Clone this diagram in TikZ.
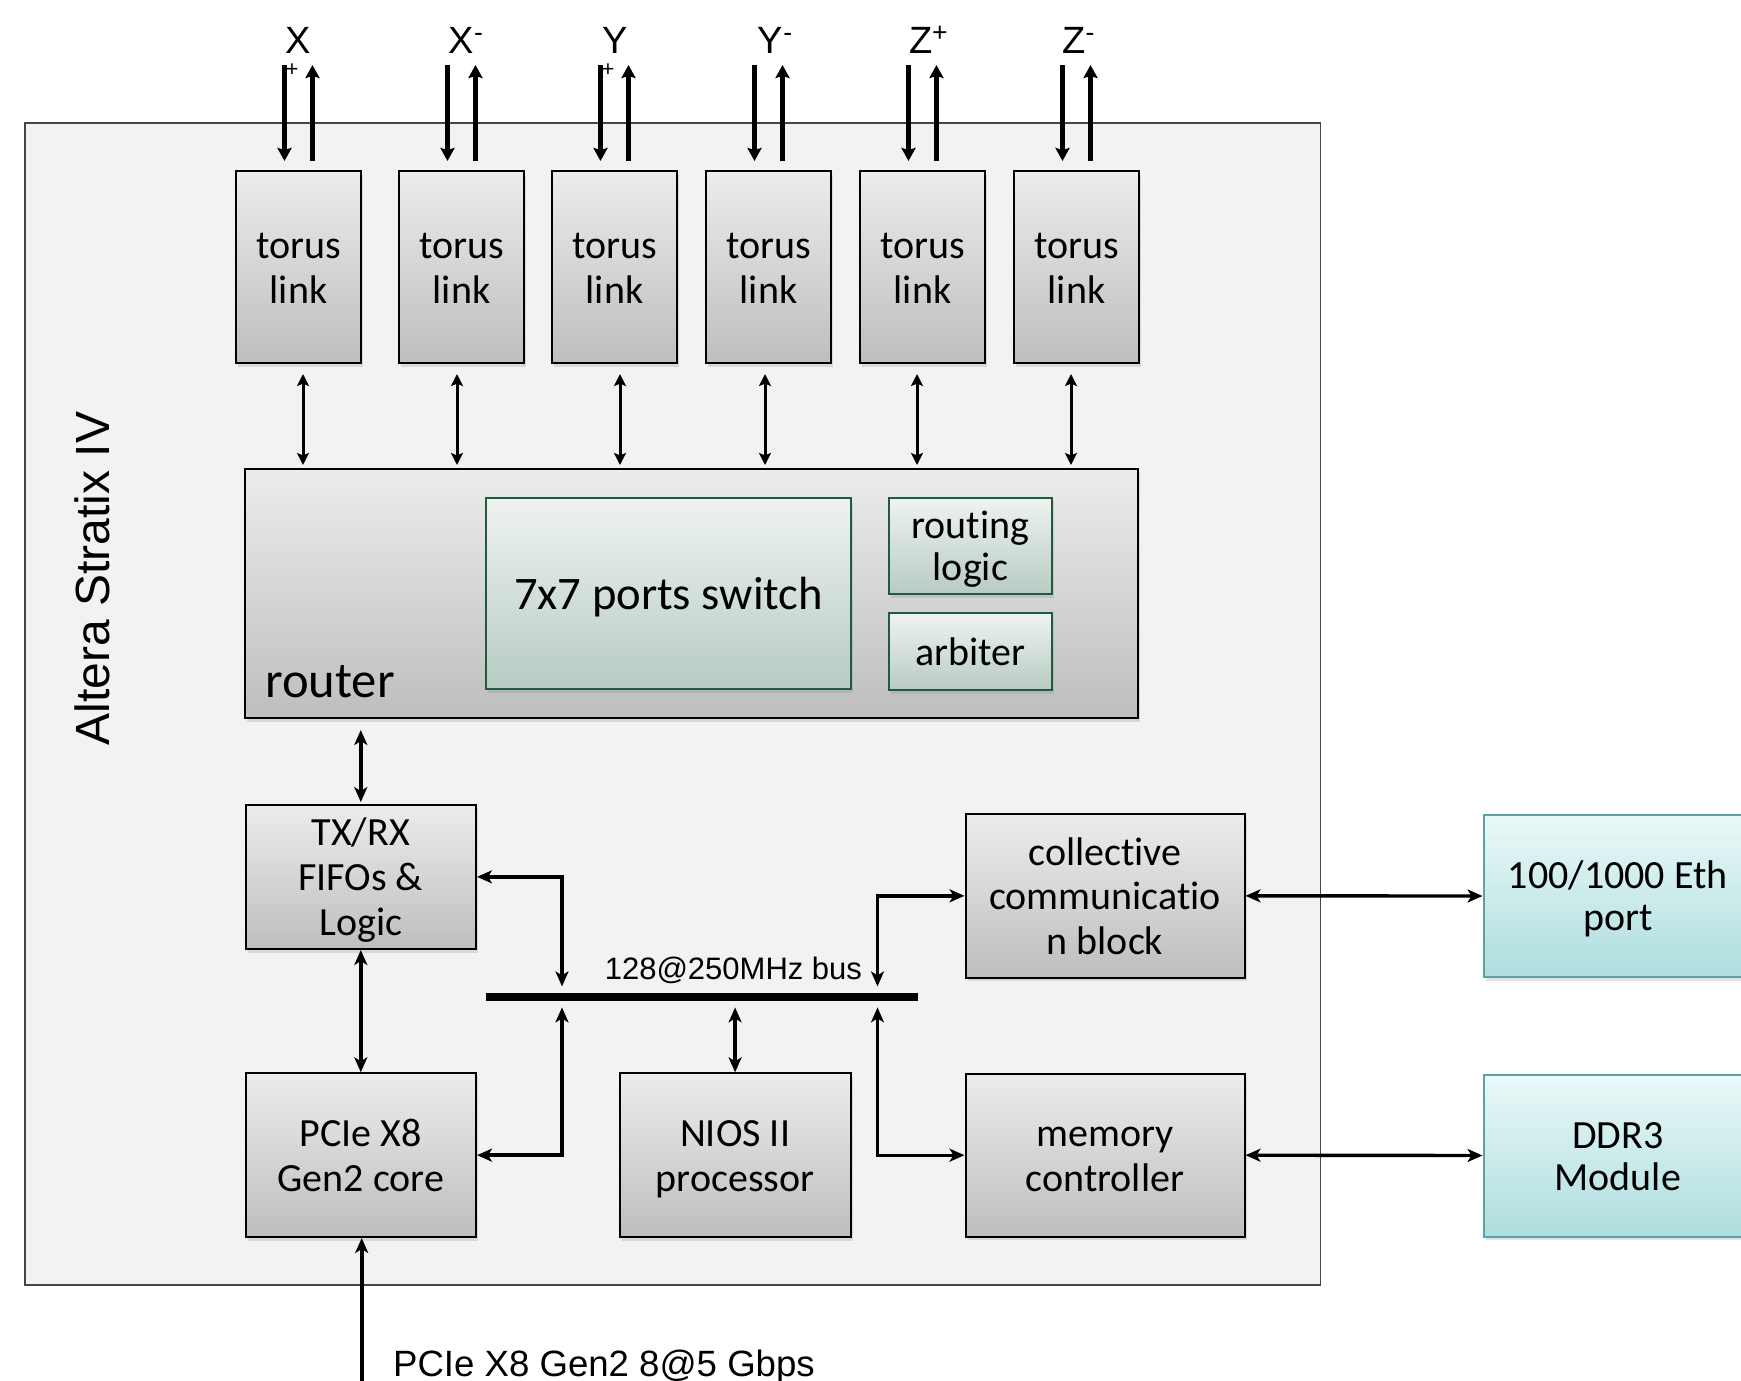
\documentclass[tikz,border=0pt]{standalone}
\usepackage{fontspec}
\setmainfont{Carlito}[Ligatures={NoCommon}]
\newfontfamily\arialf{Liberation Sans}
\usetikzlibrary{arrows.meta,shadows,calc}
\newcommand\lnst{\vrule width 0pt height 0.85em depth 0.15em\relax}
\definecolor{framefill}{RGB}{242,242,242}
\definecolor{framedraw}{RGB}{70,70,70}
\definecolor{gtop}{RGB}{236,236,236}
\definecolor{gbot}{RGB}{190,190,190}
\definecolor{sgtop}{RGB}{238,243,241}
\definecolor{sgbot}{RGB}{184,203,195}
\definecolor{sgdraw}{RGB}{30,92,60}
\definecolor{ctop}{RGB}{234,248,248}
\definecolor{cbot}{RGB}{174,222,222}
\definecolor{cdraw}{RGB}{95,160,160}
\tikzset{
  shd/.style={drop shadow={opacity=0.22,shadow xshift=1.2pt,shadow yshift=-1.8pt}},
  blk/.style={shd,draw=black,line width=1pt,top color=gtop,bottom color=gbot,
    align=center,inner sep=0pt,font=\fontsize{20pt}{22.3pt}\selectfont},
  gbox/.style={shd,draw=sgdraw,line width=1pt,top color=sgtop,bottom color=sgbot,
    align=center,inner sep=0pt,font=\fontsize{20pt}{20.7pt}\selectfont},
  cbox/.style={shd,draw=cdraw,line width=1pt,top color=ctop,bottom color=cbot,
    align=center,inner sep=0pt,font=\fontsize{20pt}{21pt}\selectfont},
  torus/.style={blk,minimum width=62.5pt,minimum height=96pt},
  lbl/.style={font=\arialf\fontsize{19pt}{21pt}\selectfont,inner sep=0pt},
  smallplus/.style={font=\arialf\fontsize{11pt}{12pt}\selectfont,inner sep=0pt},
  toparr/.style={line width=2.3pt,-{Stealth[length=6.5pt,width=7pt,inset=1pt]}},
  midarr/.style={line width=1.5pt,{Stealth[length=6pt,width=6pt,inset=1.2pt]}-{Stealth[length=6pt,width=6pt,inset=1.2pt]}},
  elb/.style={line width=1.7pt,{Stealth[length=7.5pt,width=6.5pt,inset=2pt]}-{Stealth[length=7.5pt,width=6.5pt,inset=2pt]}},
  inarr/.style={line width=2pt,-{Stealth[length=7.5pt,width=6.5pt,inset=2pt]}}
}
\begin{document}
\begin{tikzpicture}[x=0.5pt,y=-0.5pt]
\useasboundingbox (0,0) rectangle (1741,1381);
% chip frame
\node[draw=framedraw,fill=framefill,line width=0.7pt,minimum width=647.75pt,minimum height=581pt,inner sep=0pt] (chip) at (672.75,704) {};
\node[rotate=90,anchor=base,font=\arialf\fontsize{24pt}{26pt}\selectfont,inner sep=0pt] (chiplbl) at (109,578.4) {Altera Stratix IV};
% torus links
\foreach \i/\x in {1/298.5,2/461.5,3/614.5,4/768.5,5/922.5,6/1076.5}
  \node[torus] (t\i) at (\x,267) {\lnst torus\\\lnst link};
% top arrows
\foreach \i in {1,...,6}{
  \coordinate (din\i) at ($(t\i.north)+(-14,-105)$);
  \coordinate (uout\i) at ($(t\i.north)+(14,-105)$);
  \draw[toparr] (din\i) -- ($(t\i.north)+(-14,-9)$);
  \draw[toparr] ($(t\i.north)+(14,-9)$) -- (uout\i);
}
% top labels
\node[lbl,anchor=base west] (lx1) at (285,54) {X};
\node[smallplus] (lx1p) at (292,70) {+};
\node[lbl,anchor=base west] (lx2) at (448.3,54) {X\textsuperscript{-}};
\node[lbl,anchor=base west] (ly1) at (601.7,54) {Y};
\node[smallplus] (ly1p) at (608,70) {+};
\node[lbl,anchor=base west] (ly2) at (757.5,54) {Y\textsuperscript{-}};
\node[lbl,anchor=base west] (lz1) at (908.6,54) {Z\textsuperscript{+}};
\node[lbl,anchor=base west] (lz2) at (1062,54) {Z\textsuperscript{-}};
% router
\node[blk,minimum width=446.5pt,minimum height=124.5pt] (router) at (691.5,593.5) {};
\node[anchor=base west,inner sep=0pt,font=\fontsize{25.3pt}{27pt}\selectfont] (routerlbl) at (265,697) {router};
\node[gbox,minimum width=182.5pt,minimum height=95.5pt,font=\fontsize{23.3pt}{25pt}\selectfont] (switch) at (668.5,593.5) {\lnst 7x7 ports switch};
\node[gbox,minimum width=81.65pt,minimum height=48.15pt] (rlogic) at (970.35,545.85) {\lnst routing\\\lnst logic};
\node[gbox,minimum width=81.65pt,minimum height=38.5pt] (arb) at (970.35,651.5) {\lnst arbiter};
% torus to router arrows
\foreach \i/\d in {1/4.5,2/-4.5,3/5.5,4/-3.5,5/-5.5,6/-5.5}{
  \coordinate (m\i) at ($(t\i.south)+(\d,0)$);
  \draw[midarr,shorten <=5pt,shorten >=1.5pt] (m\i) -- (m\i |- router.north);
}
% lower blocks
\node[blk,minimum width=115.2pt,minimum height=72.15pt] (tx) at (360.8,876.85) {\lnst TX/RX\\\lnst FIFOs \&\\\lnst Logic};
\node[blk,minimum width=115.2pt,minimum height=81.85pt] (pcie) at (360.8,1155.15) {\lnst PCIe X8\\\lnst Gen2 core};
\node[blk,minimum width=115.4pt,minimum height=81.85pt] (nios) at (735.1,1155.15) {\lnst NIOS II\\\lnst processor};
\node[blk,minimum width=139.5pt,minimum height=81.85pt] (coll) at (1105,895.85) {\lnst collective\\\lnst communicatio\\\lnst n block};
\node[blk,minimum width=139.5pt,minimum height=81.5pt] (mem) at (1105,1155.2) {\lnst memory\\\lnst controller};
\node[cbox,minimum width=134.25pt,minimum height=81pt] (eth) at (1617.75,896) {\lnst 100/1000 Eth\\\lnst port};
\node[cbox,minimum width=134.25pt,minimum height=81pt] (ddr) at (1617.75,1155.5) {\lnst DDR3\\\lnst Module};
% bus
\node[fill=black,minimum width=216pt,minimum height=4pt,inner sep=0pt] (bus) at (701.5,997) {};
\node[anchor=base,inner sep=0pt,font=\arialf\fontsize{15.5pt}{17pt}\selectfont] (buslbl) at (733.4,979) {128@250MHz bus};
% connectors
\draw[elb,shorten <=5.5pt,shorten >=0.8pt] (tx.north |- router.south) -- (tx.north);
\draw[elb] (tx.south) -- (pcie.north);
\draw[elb,shorten >=3.1pt] (tx.east) -| ($(bus.north)+(-139.5,0)$);
\draw[elb,shorten >=3pt] (pcie.east) -| ($(bus.south)+(-139.5,0)$);
\draw[elb,shorten <=3pt] (bus.south -| nios.north) -- (nios.north);
\draw[elb,shorten >=3.1pt] (coll.west) -| ($(bus.north)+(176,0)$);
\draw[elb,shorten >=3pt] (mem.west) -| ($(bus.south)+(176,0)$);
\draw[elb] (coll.east) -- (eth.west);
\draw[elb] (mem.east) -- (ddr.west);
\coordinate (pin) at (361.7,1395);
\draw[inarr] (pin) -- (pin |- pcie.south);
\node[anchor=base west,inner sep=0pt,font=\arialf\fontsize{18.3pt}{20pt}\selectfont] (pcielbl) at (392.7,1376.7) {PCIe X8 Gen2 8@5 Gbps};
\end{tikzpicture}
\end{document}
